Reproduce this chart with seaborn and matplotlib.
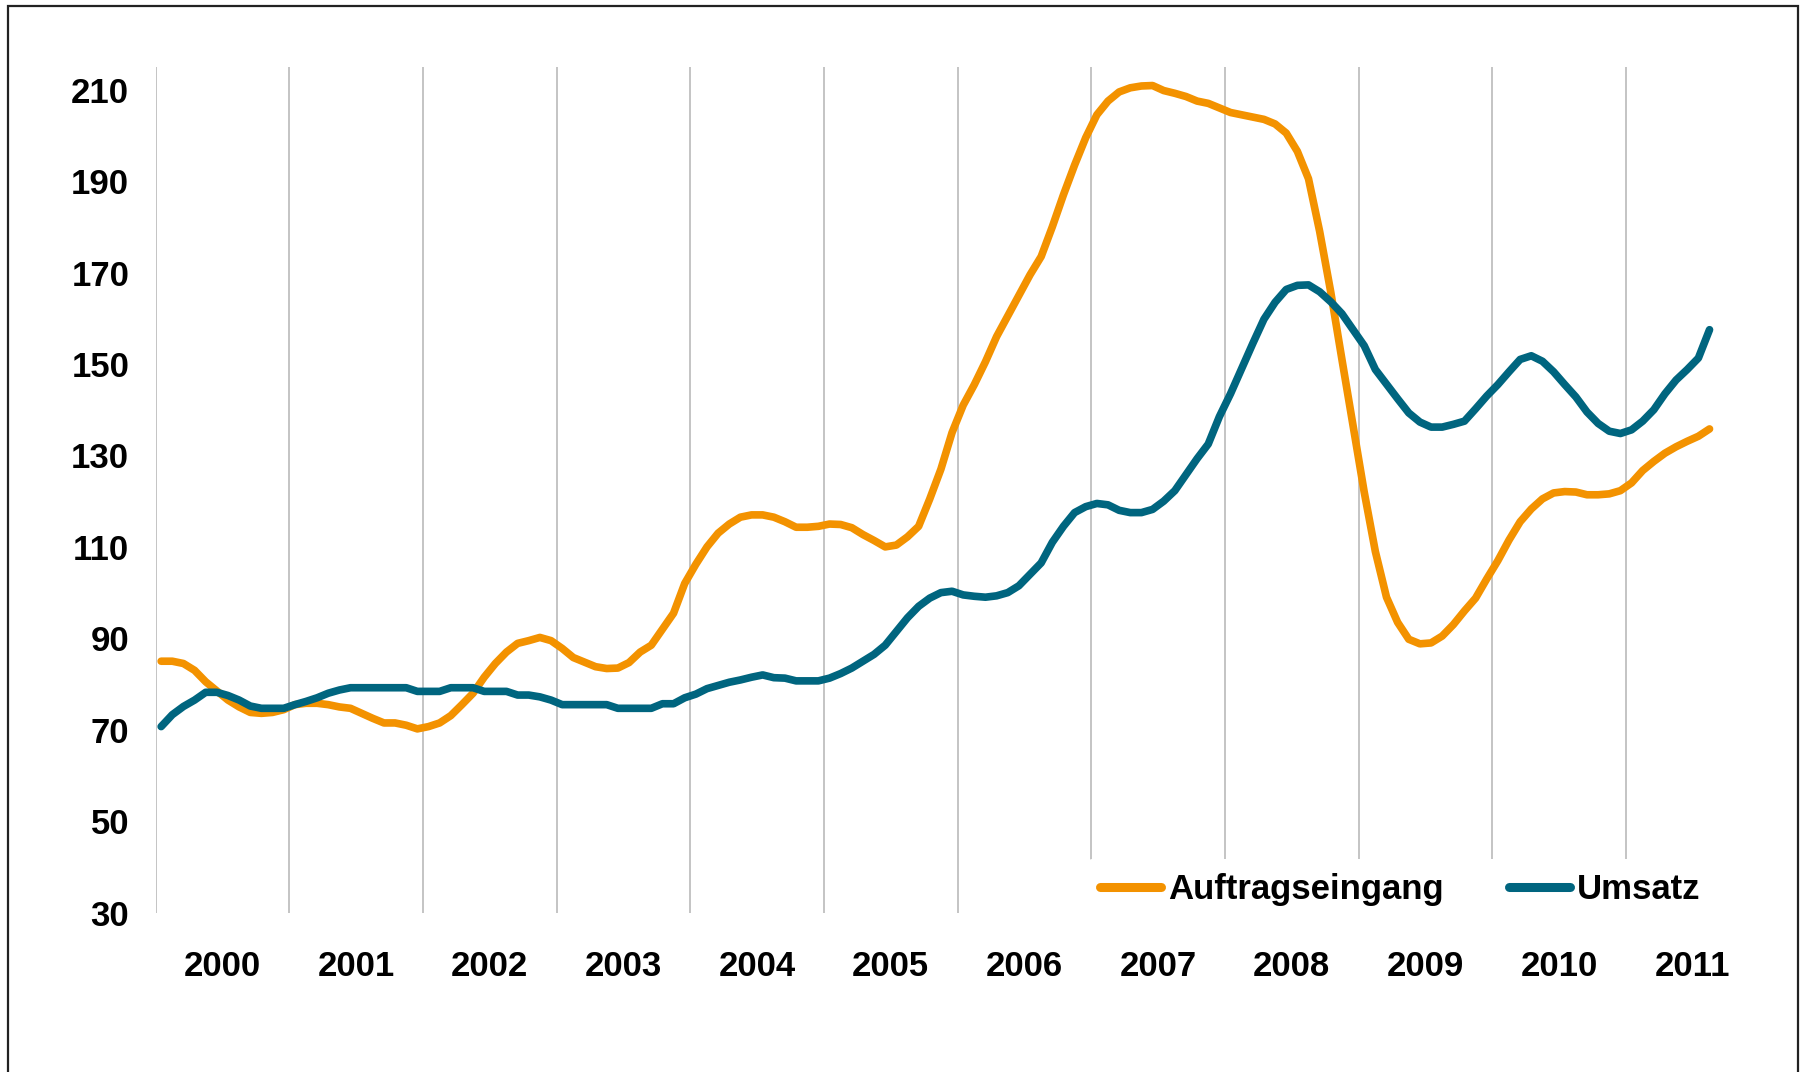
import numpy as np
import pandas as pd
import matplotlib
matplotlib.use("Agg")
import matplotlib.pyplot as plt
from matplotlib.patches import Rectangle
import seaborn as sns

# monthly index values, Jan 2000 - Aug 2011
months = pd.date_range("2000-01-01", periods=140, freq="MS")

auftragseingang = [
    85, 85, 84.5, 83, 80.5, 78.5, 76.5, 75, 73.8, 73.6, 73.8, 74.4,
    75.5, 75.8, 75.8, 75.5, 75, 74.7, 73.6, 72.5, 71.5, 71.5, 71, 70.2,
    70.7, 71.5, 73.1, 75.5, 78, 81.5, 84.5, 87, 88.9, 89.5, 90.2, 89.5,
    87.8, 85.8, 84.8, 83.8, 83.4, 83.5, 84.7, 87, 88.5, 92, 95.5, 102,
    106.2, 110, 113, 115, 116.5, 117, 117, 116.5, 115.5, 114.3, 114.3, 114.5,
    115, 114.9, 114.2, 112.7, 111.4, 110, 110.4, 112.2, 114.5, 120.5, 127, 135,
    141, 145.5, 150.5, 156, 160.5, 165, 169.5, 173.5, 180, 187, 193.5, 199.5,
    204.5, 207.5, 209.5, 210.4, 210.8, 210.9, 209.8, 209.2, 208.5, 207.5, 207, 206,
    205, 204.5, 204, 203.5, 202.5, 200.5, 196.5, 190.5, 179, 165.7, 151, 136.5,
    122, 109, 99, 93.5, 89.8, 88.8, 89, 90.5, 93, 96, 98.8, 103,
    107, 111.5, 115.5, 118.3, 120.5, 121.8, 122.1, 122, 121.4, 121.4, 121.6, 122.3,
    124, 126.7, 128.7, 130.5, 131.9, 133.1, 134.2, 135.8,
]

umsatz = [
    70.7, 73.3, 75.1, 76.5, 78.2, 78.2, 77.5, 76.5, 75.2, 74.7, 74.7, 74.7,
    75.5, 76.2, 77, 78, 78.7, 79.2, 79.2, 79.2, 79.2, 79.2, 79.2, 78.4,
    78.4, 78.4, 79.2, 79.2, 79.2, 78.4, 78.4, 78.4, 77.6, 77.6, 77.2, 76.5,
    75.5, 75.5, 75.5, 75.5, 75.5, 74.7, 74.7, 74.7, 74.7, 75.7, 75.7, 77,
    77.8, 79, 79.7, 80.4, 80.9, 81.5, 82, 81.4, 81.3, 80.7, 80.7, 80.7,
    81.3, 82.3, 83.5, 85, 86.5, 88.5, 91.5, 94.5, 97, 98.8, 100, 100.3,
    99.5, 99.2, 99, 99.3, 100, 101.5, 104, 106.5, 111, 114.5, 117.5, 118.8,
    119.5, 119.2, 118, 117.5, 117.5, 118.2, 120, 122.3, 125.8, 129.3, 132.5, 138.5,
    143.5, 149, 154.5, 159.8, 163.5, 166.3, 167.2, 167.3, 165.8, 163.6, 161, 157.5,
    154, 148.8, 145.6, 142.4, 139.3, 137.3, 136.2, 136.2, 136.8, 137.5, 140.2, 143,
    145.5, 148.3, 151, 151.8, 150.6, 148.3, 145.5, 142.8, 139.5, 137, 135.3, 134.8,
    135.6, 137.5, 140, 143.5, 146.5, 148.8, 151.3, 157.5,
]

years = list(range(2000, 2012))
y_ticks = list(range(30, 211, 20))

orange = "#F39200"
teal = "#00657F"

# month slot centres on a year axis
x = months.year + (months.month - 0.5) / 12
df = pd.concat([
    pd.DataFrame({"x": x, "wert": auftragseingang, "serie": "Auftragseingang"}),
    pd.DataFrame({"x": x, "wert": umsatz, "serie": "Umsatz"}),
])

sns.set_style("white")
plt.rcParams["font.family"] = ["Liberation Sans", "DejaVu Sans"]
plt.rcParams["font.weight"] = "bold"
plt.rcParams["text.color"] = "black"
plt.rcParams["xtick.color"] = "black"
plt.rcParams["ytick.color"] = "black"

fig = plt.figure(figsize=(18.07, 10.72), dpi=100)
ax = fig.add_axes([0.0861, 0.1486, 0.8877, 0.7891])

sns.lineplot(data=df, x="x", y="wert", hue="serie",
             palette={"Auftragseingang": orange, "Umsatz": teal},
             linewidth=5.5, ax=ax, solid_capstyle="round", solid_joinstyle="round")

ax.set_xlim(2000, 2012)
ax.set_ylim(30, 215)
ax.set_yticks(y_ticks)
ax.set_yticklabels([str(v) for v in y_ticks], fontsize=25, fontweight="bold")
ax.set_xticks([yr + 0.5 for yr in years])
ax.set_xticklabels([str(yr) for yr in years], fontsize=25, fontweight="bold")
ax.set_xticks(years, minor=True)
ax.grid(which="minor", axis="x", color="#b4b4b4", linewidth=1.1)
ax.grid(which="major", visible=False)
ax.tick_params(axis="both", which="both", length=0)
ax.tick_params(axis="y", pad=19)
ax.tick_params(axis="x", pad=27)
ax.set_xlabel("")
ax.set_ylabel("")
for s in ax.spines.values():
    s.set_visible(False)

leg = ax.legend(loc="center", bbox_to_anchor=(0.776, 0.027), ncol=2,
                frameon=True, facecolor="white", edgecolor="none", framealpha=1,
                fontsize=25, handlelength=1.75, handletextpad=0.2,
                columnspacing=1.9, borderpad=0.4)
for t in leg.get_texts():
    t.set_fontweight("bold")
for h in leg.get_lines():
    h.set_linewidth(6.5)
    h.set_solid_capstyle("round")

# outer frame of the original graphic
fig.patches.append(Rectangle((0.0044, -0.02), 0.9906, 1.0144, transform=fig.transFigure,
                             fill=False, edgecolor="#222222", linewidth=1.6, clip_on=False))

fig.savefig("out.png", dpi=100)
